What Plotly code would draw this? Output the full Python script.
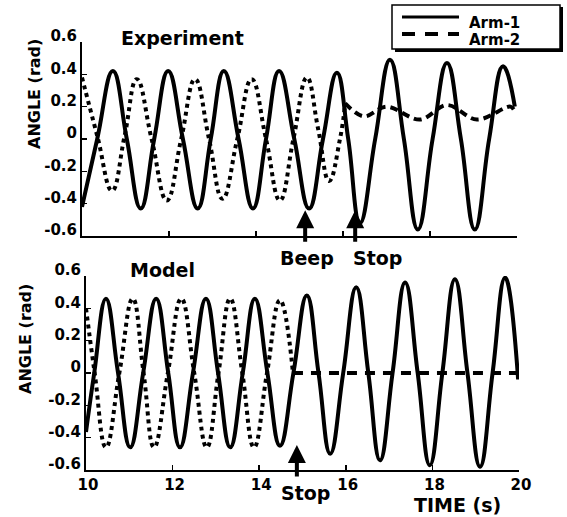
import plotly.graph_objects as go

W, H = 567, 517

# ---------------- data ----------------
exp_arm1_t = [10.00, 10.35, 10.71, 11.03, 11.35, 11.66, 11.98, 12.32, 12.66, 12.96,
              13.26, 13.60, 13.93, 14.23, 14.53, 14.88, 15.22, 15.54, 15.86, 16.12,
              16.39, 16.74, 17.08, 17.40, 17.72, 18.06, 18.39, 18.71, 19.03, 19.36,
              19.68, 19.95]
exp_arm1_v = [-0.42, 0.00, 0.42, 0.00, -0.43, 0.00, 0.42, 0.00, -0.43, 0.00,
              0.42, 0.00, -0.43, 0.00, 0.42, 0.00, -0.43, 0.00, 0.41, 0.00,
              -0.52, 0.00, 0.49, 0.00, -0.56, 0.00, 0.47, 0.00, -0.56, 0.00,
              0.45, 0.20]

exp_arm2_osc_t = [10.00, 10.35, 10.69, 10.98, 11.26, 11.60, 11.95, 12.28, 12.60, 12.92,
                  13.23, 13.57, 13.90, 14.23, 14.55, 14.86, 15.17, 15.43, 15.68, 15.93,
                  16.05]
exp_arm2_osc_v = [0.38, 0.02, -0.32, 0.02, 0.37, 0.00, -0.38, 0.00, 0.37, 0.00,
                  -0.37, 0.00, 0.37, 0.00, -0.38, 0.00, 0.38, 0.06, -0.26, 0.00,
                  0.22]
exp_arm2_stop_t = [16.05, 16.48, 17.00, 17.77, 18.39, 19.08, 19.85, 19.95]
exp_arm2_stop_v = [0.22, 0.14, 0.20, 0.12, 0.21, 0.12, 0.20, 0.17]

mod_arm1_t = [10.00, 10.19, 10.46, 10.74, 11.02, 11.32, 11.62, 11.90, 12.17, 12.47,
              12.77, 13.05, 13.33, 13.62, 13.90, 14.19, 14.48, 14.79, 15.10, 15.37,
              15.64, 15.94, 16.24, 16.52, 16.79, 17.08, 17.37, 17.66, 17.94, 18.23,
              18.52, 18.81, 19.10, 19.39, 19.68, 19.98]
mod_arm1_v = [-0.365, 0.00, 0.46, 0.00, -0.46, 0.00, 0.46, 0.00, -0.46, 0.00,
              0.46, 0.00, -0.46, 0.00, 0.46, 0.00, -0.45, 0.00, 0.48, 0.00,
              -0.50, 0.00, 0.53, 0.00, -0.54, 0.00, 0.56, 0.00, -0.57, 0.00,
              0.58, 0.00, -0.58, 0.00, 0.59, -0.04]

mod_arm2_osc_t = [10.00, 10.20, 10.46, 10.77, 11.08, 11.33, 11.57, 11.89, 12.20, 12.50,
                  12.79, 13.06, 13.33, 13.61, 13.88, 14.18, 14.48, 14.78]
mod_arm2_osc_v = [0.40, 0.00, -0.46, 0.00, 0.46, 0.00, -0.46, 0.00, 0.46, 0.00,
                  -0.46, 0.00, 0.46, 0.00, -0.46, 0.00, 0.45, 0.00]
mod_arm2_stop_t = [14.78, 19.98]
mod_arm2_stop_v = [0.00, 0.00]

# events (time, value at arrow tip, label)
exp_events_t = [15.13, 16.28]
exp_events_v = [-0.44, -0.44]
exp_events_label = ["Beep", "Stop"]
mod_events_t = [14.87]
mod_events_v = [-0.445]
mod_events_label = ["Stop"]

y_tickvals = [-0.6, -0.4, -0.2, 0, 0.2, 0.4, 0.6]
y_ticktext = ["-0.6", "-0.4", "-0.2", "0", "0.2", "0.4", "0.6"]
x_tickvals = [10, 12, 14, 16, 18, 20]
x_ticktext = ["10", "12", "14", "16", "18", "20"]
series_names = ["Arm-1", "Arm-2"]

# ---------------- helpers ----------------
FONT = "DejaVu Sans"


def px(x):
    return x / W


def py(y):
    return 1 - y / H


fig = go.Figure()

line_solid = dict(color="black", width=4, shape="spline", smoothing=1.3)
line_dot = dict(color="black", width=4, dash="dot", shape="spline", smoothing=1.3)

# experiment
fig.add_trace(go.Scatter(x=exp_arm2_osc_t, y=exp_arm2_osc_v, mode="lines", line=line_dot,
                         xaxis="x", yaxis="y", showlegend=False))
fig.add_trace(go.Scatter(x=exp_arm2_stop_t, y=exp_arm2_stop_v, mode="lines",
                         line=dict(color="black", width=4, dash="8px,5px", shape="spline"),
                         xaxis="x", yaxis="y", showlegend=False))
fig.add_trace(go.Scatter(x=exp_arm1_t, y=exp_arm1_v, mode="lines", line=line_solid,
                         xaxis="x", yaxis="y", showlegend=False))
# model
fig.add_trace(go.Scatter(x=mod_arm2_osc_t, y=mod_arm2_osc_v, mode="lines", line=line_dot,
                         xaxis="x2", yaxis="y2", showlegend=False))
fig.add_trace(go.Scatter(x=mod_arm2_stop_t, y=mod_arm2_stop_v, mode="lines",
                         line=dict(color="black", width=4, dash="10px,8px"),
                         xaxis="x2", yaxis="y2", showlegend=False))
fig.add_trace(go.Scatter(x=mod_arm1_t, y=mod_arm1_v, mode="lines", line=line_solid,
                         xaxis="x2", yaxis="y2", showlegend=False))

tickfont = dict(family=FONT, size=15, color="black", weight="bold")
common_x = dict(range=[10, 20], showline=True, linecolor="black", linewidth=2,
                ticks="inside", ticklen=5, tickwidth=1.5, tickcolor="black",
                tickvals=x_tickvals, ticktext=x_ticktext, showgrid=False,
                zeroline=False, tickfont=tickfont, automargin=False)
common_y = dict(range=[-0.6, 0.6], showline=True, linecolor="black", linewidth=2,
                ticks="inside", ticklen=5, tickwidth=1.5, tickcolor="black",
                tickvals=y_tickvals, ticktext=y_ticktext, showgrid=False,
                zeroline=False, tickfont=tickfont, ticklabelshift=-6, automargin=False)

fig.update_layout(
    width=W, height=H,
    margin=dict(l=0, r=0, t=0, b=0, pad=0),
    paper_bgcolor="white", plot_bgcolor="white",
    xaxis=dict(common_x, domain=[px(82), px(517)], anchor="y", showticklabels=False),
    yaxis=dict(common_y, domain=[py(236), py(42)], anchor="x"),
    xaxis2=dict(common_x, domain=[px(86), px(519)], anchor="y2", ticklabelshift=2),
    yaxis2=dict(common_y, domain=[py(470), py(276)], anchor="x2"),
    showlegend=False,
    hovermode=False,
)

ann = []


def text(x, y, s, size, angle=0, xanchor="center"):
    ann.append(dict(x=px(x), y=py(y), xref="paper", yref="paper", text=s, showarrow=False,
                    xanchor=xanchor, yanchor="middle", textangle=angle,
                    font=dict(family=FONT, size=size, color="black", weight="bold")))


text(182, 38, "Experiment", 19)
text(162, 270, "Model", 19)
text(34, 94, "ANGLE (rad)", 16, angle=-90)
text(25, 339, "ANGLE (rad)", 16, angle=-90)
text(457, 505, "TIME (s)", 19)
text(307, 258, exp_events_label[0], 19)
text(377, 258, exp_events_label[1], 19)
text(305, 493, mod_events_label[0], 19)
text(467, 23, series_names[0], 15, xanchor="left")
text(467, 40, series_names[1], 15, xanchor="left")

for t, v in zip(exp_events_t, exp_events_v):
    ann.append(dict(x=t, y=v, xref="x", yref="y", text="", showarrow=True, ax=0, ay=33,
                    arrowhead=2, arrowsize=0.9, arrowwidth=4, arrowcolor="black"))
for t, v in zip(mod_events_t, mod_events_v):
    ann.append(dict(x=t, y=v, xref="x2", yref="y2", text="", showarrow=True, ax=0, ay=33,
                    arrowhead=2, arrowsize=0.9, arrowwidth=4, arrowcolor="black"))

shapes = [
    dict(type="rect", xref="paper", yref="paper", x0=px(395), y0=py(52), x1=px(563), y1=py(7),
         fillcolor="black", line=dict(width=0)),
    dict(type="rect", xref="paper", yref="paper", x0=px(392), y0=py(49), x1=px(560), y1=py(5),
         fillcolor="white", line=dict(color="black", width=1.5)),
    dict(type="line", xref="paper", yref="paper", x0=px(402), y0=py(17), x1=px(459), y1=py(17),
         line=dict(color="black", width=3)),
    dict(type="line", xref="paper", yref="paper", x0=px(402), y0=py(34), x1=px(459), y1=py(34),
         line=dict(color="black", width=4, dash="13px,10px")),
]

fig.update_layout(annotations=ann, shapes=shapes)
fig.write_html("out.html",
               config={"displayModeBar": False, "staticPlot": True},
               post_script="document.body.style.margin='0px';document.body.style.overflow='hidden';")
